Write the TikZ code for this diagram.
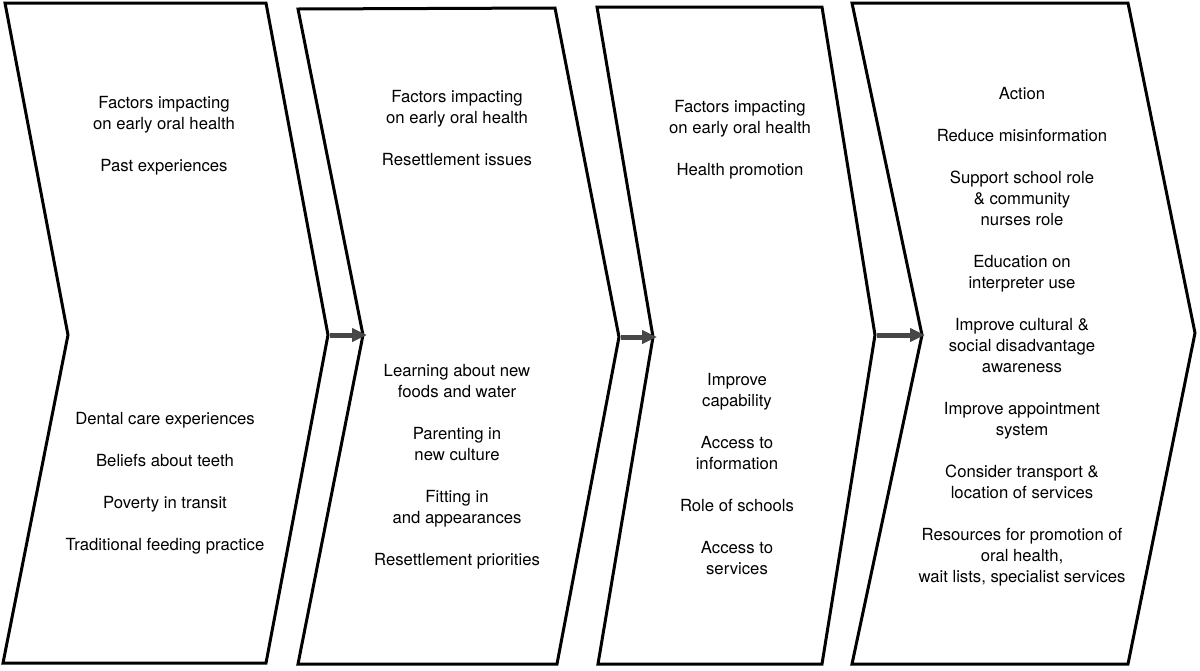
\documentclass[tikz,border=0pt]{standalone}
\usepackage{fontspec}
\setmainfont{TeX Gyre Heros}
\usetikzlibrary{arrows.meta}
\definecolor{arrowgray}{HTML}{474747}
\tikzset{
chevron/.style={draw, line width=3pt},
txt/.style={align=center, inner sep=0pt, anchor=north},
link/.style={draw=arrowgray, line width=5pt, -{Triangle[length=15pt,width=13pt]}},
font={\fontsize{16.7pt}{21pt}\selectfont}
}

\begin{document}
\begin{tikzpicture}[x=1pt,y=-1pt]
  \useasboundingbox (0,0) rectangle (1200,670);
  % the four stages
  \draw[chevron] (5,3) -- (266,3) -- (328,335) coordinate (tip1) -- (266,663) -- (3,663) -- (68,335) -- cycle;
  \draw[chevron] (298,9) -- (555,8) -- (619,337) coordinate (tip2) -- (557,664) -- (298,664) -- (363,335) coordinate (notch2) -- cycle;
  \draw[chevron] (597,7) -- (822,7) -- (875,335) coordinate (tip3) -- (822,664) -- (598,664) -- (653,337) coordinate (notch3) -- cycle;
  \draw[chevron] (852,3) -- (1128,3) -- (1195,333) -- (1128,664) -- (852,664) -- (922,335) coordinate (notch4) -- cycle;
  \draw[link] ([xshift=2pt]tip1) -- ([xshift=4pt]notch2);
  \draw[link] ([xshift=2pt]tip2) -- ([xshift=4pt]notch3);
  \draw[link] ([xshift=2pt]tip3) -- ([xshift=3pt]notch4);
  % texts
  \node[txt] (pasttop) at (164,96) {Factors impacting\\on early oral health\\[21pt]Past experiences};
  \node[txt] (pastlow) at (165,412) {Dental care experiences\\[21pt]Beliefs about teeth\\[21pt]Poverty in transit\\[21pt]Traditional feeding practice};
  \node[txt] (resettop) at (457,90) {Factors impacting\\on early oral health\\[21pt]Resettlement issues};
  \node[txt] (resetlow) at (457,364) {Learning about new\\foods and water\\[21pt]Parenting in\\new culture\\[21pt]Fitting in\\and appearances\\[21pt]Resettlement priorities};
  \node[txt] (promotop) at (740,100) {Factors impacting\\on early oral health\\[21pt]Health promotion};
  \node[txt] (promolow) at (737,373) {Improve\\capability\\[21pt]Access to\\information\\[21pt]Role of schools\\[21pt]Access to\\services};
  \node[txt] (action) at (1022,87) {Action\\[21pt]Reduce misinformation\\[21pt]Support school role\\\& community\\nurses role\\[21pt]Education on\\interpreter use\\[21pt]Improve cultural \&\\social disadvantage\\awareness\\[21pt]Improve appointment\\system\\[21pt]Consider transport \&\\location of services\\[21pt]Resources for promotion of\\oral health,\\wait lists, specialist services};
\end{tikzpicture}
\end{document}
